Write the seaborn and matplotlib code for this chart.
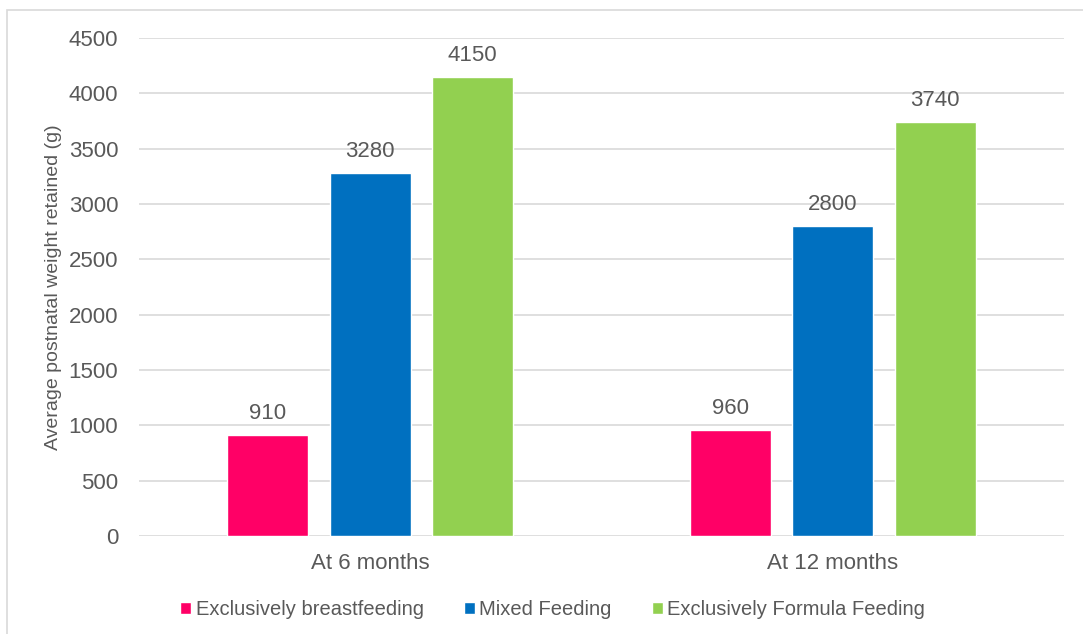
import pandas as pd
import seaborn as sns
import matplotlib.pyplot as plt
from matplotlib.patches import Rectangle

# dados
periodos = ['At 6 months', 'At 12 months']
grupos = ['Exclusively breastfeeding', 'Mixed Feeding', 'Exclusively Formula Feeding']
amamentacao = [910, 960]
misto = [3280, 2800]
formula = [4150, 3740]
cores = ['#FF0066', '#0070C0', '#92D050']

df = pd.DataFrame({
    'periodo': periodos * 3,
    'grupo': [grupos[0]] * 2 + [grupos[1]] * 2 + [grupos[2]] * 2,
    'peso': amamentacao + misto + formula,
})

sns.set_style('white')
plt.rcParams['font.family'] = ['Liberation Sans', 'DejaVu Sans']
cinza = '#595959'

fig = plt.figure(figsize=(10.83, 6.34), dpi=100)
ax = fig.add_axes([0.1283, 0.1546, 0.8542, 0.7855])

sns.barplot(data=df, x='periodo', y='peso', hue='grupo', palette=cores,
            width=0.664, gap=0.21, saturation=1, ax=ax, legend=True)

for cont in ax.containers:
    ax.bar_label(cont, fmt='%d', padding=8, fontsize=16, color=cinza)

ax.set_ylim(0, 4500)
ax.set_xlim(-0.5, 1.5)
ax.set_yticks(range(0, 4501, 500))
ax.yaxis.grid(True, color='#D9D9D9', linewidth=1.2)
ax.set_axisbelow(True)
for s in ax.spines.values():
    s.set_visible(False)
ax.tick_params(axis='both', length=0, labelsize=16, colors=cinza)
ax.tick_params(axis='y', pad=15)
ax.tick_params(axis='x', pad=12)
ax.set_xlabel('')
ax.set_ylabel('Average postnatal weight retained (g)', fontsize=14, color=cinza, labelpad=5)

ax.legend(loc='center', bbox_to_anchor=(0.447, -0.148), ncol=3, frameon=False,
          fontsize=14.5, labelcolor=cinza, handlelength=0.55, handleheight=0.55,
          handletextpad=0.2, columnspacing=2.0)

# moldura do gráfico
fig.patches.append(Rectangle((7 / 1083, -0.1), 1.2, 1 - 10 / 634 + 0.1,
                             transform=fig.transFigure, fill=False,
                             edgecolor='#D9D9D9', linewidth=1.2))

plt.savefig('out.png', dpi=100)
plt.close()
